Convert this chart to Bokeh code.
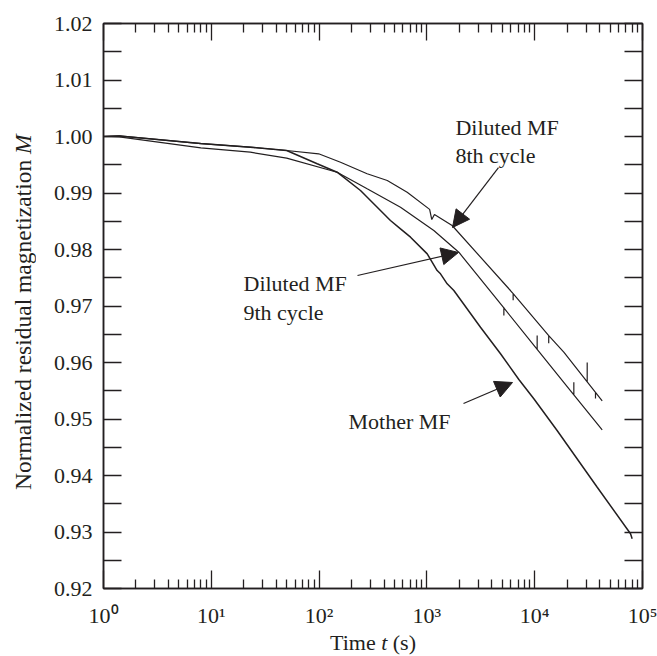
from bokeh.plotting import figure
from bokeh.models import (Range1d, FixedTicker, LinearAxis, LogAxis, Label, Arrow,
                          NormalHead, CustomJSTickFormatter, PrintfTickFormatter, Div)
from bokeh.layouts import row, column
from bokeh.embed import file_html
from bokeh.resources import INLINE

# ---------------- data ----------------
t_8th = [1, 1.4, 8, 23, 50, 99, 158, 279, 429, 656, 1060, 1110, 1175, 1714, 5957,
         6310, 6310, 6310, 13490, 13490, 13490, 18620, 30690, 30690, 30690,
         36640, 36640, 36640, 42270]
m_8th = [1.0000, 1.0001, 0.99874, 0.99811, 0.99752, 0.99694, 0.99545, 0.99340, 0.99221,
         0.99015, 0.98710, 0.98530, 0.98620, 0.98425, 0.97274,
         0.97218, 0.97100, 0.97218, 0.96474, 0.96340, 0.96474, 0.96182, 0.95656, 0.96000, 0.95656,
         0.95471, 0.95363, 0.95471, 0.95320]

t_9th = [1, 1.4, 8, 23, 50, 147, 279, 569, 1159, 1977, 5176, 5176, 5176,
         10540, 10540, 10540, 23070, 23070, 23070, 42270]
m_9th = [1.0000, 0.99995, 0.99800, 0.99722, 0.99616, 0.99368, 0.99074, 0.98749, 0.98336,
         0.97952, 0.96965, 0.96832, 0.96965, 0.96232, 0.96478, 0.96232,
         0.95428, 0.95651, 0.95428, 0.94809]

t_mother = [1, 1.4, 8, 23, 50, 96, 147, 242, 346, 459, 569, 705, 1007, 1245, 1337, 1542,
            1778, 3141, 4819, 7129, 9817, 16140, 38020, 77450, 80170]
m_mother = [1.0000, 1.0001, 0.99874, 0.99811, 0.99752, 0.99517, 0.99368, 0.99044, 0.98749,
            0.98513, 0.98366, 0.98218, 0.97923, 0.97628, 0.97570, 0.97393,
            0.97274, 0.96625, 0.96154, 0.95700, 0.95358, 0.94796, 0.93793, 0.92968, 0.92880]

x_decades = [1, 10, 100, 1000, 10000, 100000]
x_tick_labels = ["10\u2070", "10\u00b9", "10\u00b2", "10\u00b3", "10\u2074", "10\u2075"]
y_ticks = [0.92, 0.93, 0.94, 0.95, 0.96, 0.97, 0.98, 0.99, 1.00, 1.01, 1.02]
y_minor_ticks = [0.925, 0.935, 0.945, 0.955, 0.965, 0.975, 0.985, 0.995, 1.005, 1.015]

x_title = ("Time ", "t", " (s)")
y_title = ("Normalized residual magnetization ", "M")
annotations = ["Diluted MF", "8th cycle", "Diluted MF", "9th cycle", "Mother MF"]

# ---------------- styling ----------------
FONT = "Liberation Serif"
INK = "#231f20"
FS = "22px"

x_minor = [m * d for d in x_decades[:-1] for m in range(2, 10)]

p = figure(width=617, height=630, x_axis_type="log",
           x_range=Range1d(1, 1e5), y_range=Range1d(0.92, 1.02),
           output_backend="svg", toolbar_location=None, margin=0,
           min_border_left=63, min_border_right=15, min_border_top=23, min_border_bottom=42)
p.grid.visible = False
p.outline_line_color = INK
p.outline_line_width = 1.5
p.background_fill_color = "white"
p.border_fill_color = "white"

xticker = FixedTicker(ticks=x_decades, minor_ticks=x_minor)
yticker = FixedTicker(ticks=y_ticks, minor_ticks=y_minor_ticks)
blank = CustomJSTickFormatter(code="return ''")

def style_axis(ax, major_in, minor_in):
    ax.axis_line_color = INK
    ax.axis_line_width = 1.5
    ax.major_tick_line_color = INK
    ax.minor_tick_line_color = INK
    ax.major_tick_line_width = 1.3
    ax.minor_tick_line_width = 1.3
    ax.major_tick_in = major_in
    ax.major_tick_out = 0
    ax.minor_tick_in = minor_in
    ax.minor_tick_out = 0
    ax.major_label_text_font = FONT
    ax.major_label_text_font_size = FS
    ax.major_label_text_color = INK
    ax.axis_label = None

xb = p.xaxis[0]
xb.ticker = xticker
xb.formatter = CustomJSTickFormatter(args=dict(labels=x_tick_labels),
                                     code="return labels[Math.round(Math.log10(tick))];")
style_axis(xb, 18, 9)
xb.major_label_standoff = 14

yl = p.yaxis[0]
yl.ticker = yticker
yl.formatter = PrintfTickFormatter(format="%.2f")
style_axis(yl, 18, 18)
yl.major_label_standoff = 11

xt = LogAxis(ticker=xticker, formatter=blank)
style_axis(xt, 17, 9)
xt.major_label_standoff = 0
xt.major_label_text_font_size = "1px"
p.add_layout(xt, "above")

yr = LinearAxis(ticker=yticker, formatter=blank)
style_axis(yr, 18, 18)
yr.major_label_standoff = 0
yr.major_label_text_font_size = "1px"
p.add_layout(yr, "right")

# ---------------- curves ----------------
p.line(t_8th, m_8th, line_color=INK, line_width=1.2)
p.line(t_9th, m_9th, line_color=INK, line_width=1.2)
p.line(t_mother, m_mother, line_color=INK, line_width=1.5)

# ---------------- annotations ----------------
def txt(x, y, s):
    p.add_layout(Label(x=x, y=y, text=s, text_font=FONT, text_font_size=FS, text_color=INK,
                       text_align="left", text_baseline="alphabetic"))

txt(1841, 1.00159, annotations[0])
txt(1841, 0.99664, annotations[1])
txt(19.89, 0.97398, annotations[2])
txt(19.89, 0.96885, annotations[3])
txt(187.4, 0.94956, annotations[4])

def arrow(xs, ys, xe, ye):
    p.add_layout(Arrow(end=NormalHead(size=17, fill_color=INK, line_color=INK, line_width=1),
                       x_start=xs, y_start=ys, x_end=xe, y_end=ye,
                       line_color=INK, line_width=1.2))

arrow(4613, 0.99451, 1728, 0.98389)
arrow(227, 0.97540, 1963, 0.97947)
arrow(2186, 0.95274, 6224, 0.95646)

# ---------------- axis titles (upright text with an italic symbol) ----------------
ydiv = Div(width=40, height=656, margin=0, text=(
    '<div style="writing-mode:vertical-rl; transform:rotate(180deg); width:40px; height:656px; '
    'box-sizing:border-box; padding-right:10px; padding-top:166px; text-align:start; '
    f'white-space:nowrap; font-family:\'{FONT}\'; font-size:23.5px; line-height:normal; color:{INK};">'
    f'{y_title[0]}<i>{y_title[1]}</i></div>'))

xdiv = Div(width=617, height=26, margin=0, text=(
    '<div style="box-sizing:border-box; padding-left:290px; padding-top:0px; white-space:nowrap; '
    f'font-family:\'{FONT}\'; font-size:{FS}; line-height:normal; color:{INK};">'
    f'{x_title[0]}<i>{x_title[1]}</i>{x_title[2]}</div>'))

layout = row(ydiv, column(p, xdiv, spacing=0, margin=0), spacing=0, margin=0)

open("out.html", "w").write(file_html(layout, INLINE))
